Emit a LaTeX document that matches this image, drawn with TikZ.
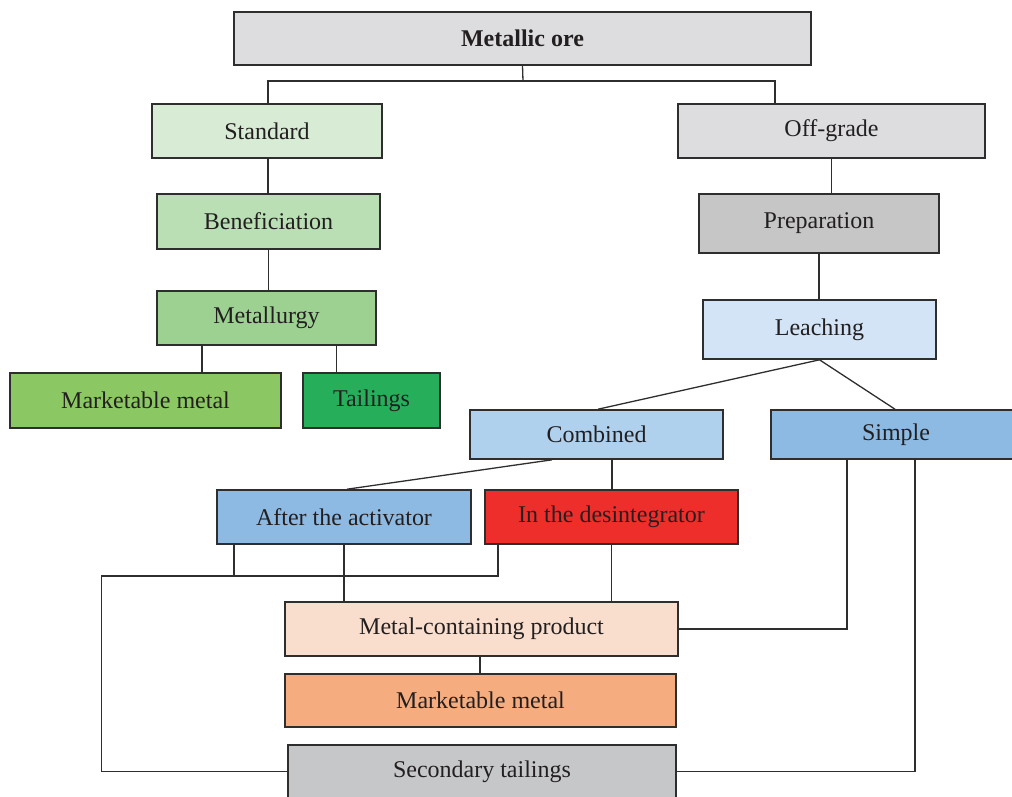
\documentclass[tikz,border=0pt]{standalone}
\usepackage{fontspec}
\setmainfont{Liberation Serif}
\definecolor{txt}{HTML}{231F20}
\definecolor{edge}{HTML}{2E2E2E}
\definecolor{cOre}{HTML}{DDDDDF}
\definecolor{cStd}{HTML}{D8EBD4}
\definecolor{cOff}{HTML}{DDDDE0}
\definecolor{cBen}{HTML}{BADFB5}
\definecolor{cMet}{HTML}{9DD192}
\definecolor{cMmg}{HTML}{8BC864}
\definecolor{cTail}{HTML}{27AE5B}
\definecolor{cPrep}{HTML}{C6C6C6}
\definecolor{cLeach}{HTML}{D2E4F5}
\definecolor{cComb}{HTML}{B0D1EE}
\definecolor{cSimp}{HTML}{8DBAE3}
\definecolor{cDes}{HTML}{EE2E2B}
\definecolor{cMcp}{HTML}{F9DECD}
\definecolor{cMmo}{HTML}{F5AD80}
\definecolor{cSec}{HTML}{C6C7C9}
\begin{document}
\begin{tikzpicture}[x=1pt,y=-1pt,
  box/.style={draw=edge, line width=1.6pt, inner sep=0pt, text=txt,
    font=\fontsize{24}{28}\selectfont},
  conn/.style={draw=edge, line width=1.3pt}]
\useasboundingbox (0,0) rectangle (1012,796);
% nodes
\node[box, fill=cOre, minimum width=577pt, minimum height=53pt, font=\fontsize{24}{28}\selectfont\bfseries] (ore) at (522.5,38.5) {Metallic ore};
\node[box, fill=cStd, minimum width=230pt, minimum height=54pt] (std) at (267,131) {Standard};
\node[box, fill=cOff, minimum width=307pt, minimum height=54pt] (off) at (831.5,131) {Off-grade};
\node[box, fill=cBen, minimum width=223pt, minimum height=55pt] (ben) at (268.5,221.5) {Beneficiation};
\node[box, fill=cMet, minimum width=219pt, minimum height=54pt] (met) at (266.5,318) {Metallurgy};
\node[box, fill=cMmg, minimum width=271pt, minimum height=55pt] (mm1) at (145.5,400.5) {Marketable metal};
\node[box, fill=cTail, minimum width=137pt, minimum height=55pt] (tail) at (371.5,400.5) {Tailings};
\node[box, fill=cPrep, minimum width=240pt, minimum height=59pt] (prep) at (819,223.5) {Preparation};
\node[box, fill=cLeach, minimum width=233pt, minimum height=59pt] (leach) at (819.5,329.5) {Leaching};
\node[box, fill=cComb, minimum width=253pt, minimum height=49pt] (comb) at (596.5,434.5) {Combined};
\node[box, fill=cSimp, minimum width=250pt, minimum height=49pt] (simp) at (896,434.5) {Simple};
\node[box, fill=cSimp, minimum width=254pt, minimum height=54pt] (act) at (344,517) {After the activator};
\node[box, fill=cDes, minimum width=253pt, minimum height=54pt] (des) at (611.5,517) {In the desintegrator};
\node[box, fill=cMcp, minimum width=393pt, minimum height=54pt] (mcp) at (481.5,629) {Metal-containing product};
\node[box, fill=cMmo, minimum width=391pt, minimum height=53pt] (mm2) at (480.5,700.5) {Marketable metal};
\node[box, fill=cSec, minimum width=388pt, minimum height=53pt] (sec) at (482,771.5) {Secondary tailings};
% junctions
\coordinate (j1) at (523,81);
\coordinate (h1) at (101.5,576);
% connectors
\draw[conn] (ore.south) -- (j1);
\draw[conn] ([xshift=1pt]std.north) |- (j1) -| ([xshift=-56.5pt]off.north);
\draw[conn] ([xshift=1pt]std.south) -- ([xshift=1pt]std.south |- ben.north);
\draw[conn] (ben.south) -- (ben.south |- met.north);
\draw[conn] ([xshift=-64.5pt]met.south) -- ([xshift=-64.5pt]met.south |- mm1.north);
\draw[conn] ([xshift=70pt]met.south) -- ([xshift=70pt]met.south |- tail.north);
\draw[conn] (off.south) -- (off.south |- prep.north);
\draw[conn] (prep.south) -- (prep.south |- leach.north);
\draw[conn] (leach.south) -- ([xshift=1.5pt]comb.north);
\draw[conn] (leach.south) -- ([xshift=-1pt]simp.north);
\draw[conn] ([xshift=-44.5pt]comb.south) -- ([xshift=3pt]act.north);
\draw[conn] ([xshift=15.5pt]comb.south) -- ([xshift=15.5pt]comb.south |- des.north);
\draw[conn] ([xshift=-110pt]act.south) -- ([xshift=-110pt]act.south |- h1);
\draw[conn] ([xshift=-113.5pt]des.south) |- (h1) |- (sec.west);
\draw[conn] (act.south) -- (act.south |- mcp.north);
\draw[conn] (des.south) -- (des.south |- mcp.north);
\draw[conn] ([xshift=-49pt]simp.south) |- (mcp.east);
\draw[conn] ([xshift=19pt]simp.south) |- (sec.east);
\draw[conn] ([xshift=-1.5pt]mcp.south) -- ([xshift=-1.5pt]mcp.south |- mm2.north);
\end{tikzpicture}
\end{document}
